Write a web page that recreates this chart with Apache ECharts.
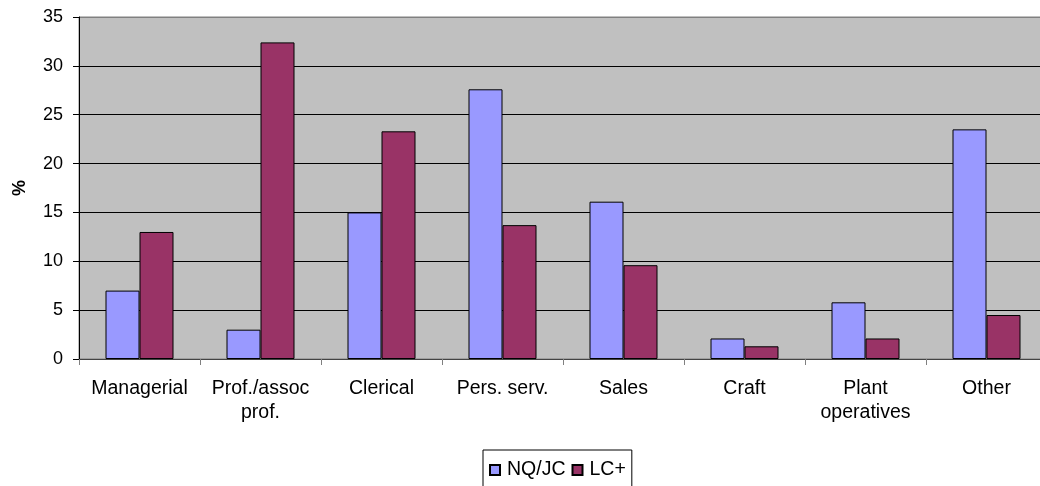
<!DOCTYPE html>
<html>
<head>
<meta charset="utf-8">
<script src="https://cdn.jsdelivr.net/npm/echarts@6/dist/echarts.min.js"></script>
<style>
  html, body { margin: 0; padding: 0; background: #fff; overflow: hidden; }
  #chart { width: 1047px; height: 486px; }
</style>
</head>
<body>
<div id="chart"></div>
<script>
const categories = ['Managerial', 'Prof./assoc\nprof.', 'Clerical', 'Pers. serv.', 'Sales', 'Craft', 'Plant\noperatives', 'Other'];
const nqjc = [7.0, 3.0, 15.0, 27.6, 16.1, 2.1, 5.8, 23.5];
const lcPlus = [13.0, 32.4, 23.3, 13.7, 9.6, 1.3, 2.1, 4.5];

const chart = echarts.init(document.getElementById('chart'));

const font = 'Liberation Sans, Arial, sans-serif';

chart.setOption({
    animation: false,
    textStyle: { fontFamily: font },
    grid: {
        left: 79, top: 17, bottom: 127, right: 0,
        show: true,
        backgroundColor: '#C0C0C0',
        borderColor: '#808080',
        borderWidth: 1
    },
    legend: {
        data: ['NQ/JC', 'LC+'],
        left: 483, top: 450,
        padding: [10, 6, 30, 6],
        itemGap: 6,
        itemWidth: 10, itemHeight: 10,
        icon: 'rect',
        borderColor: '#000', borderWidth: 1,
        textStyle: { fontSize: 19.5, color: '#000', fontFamily: font, padding: [0, 0, 0, 2] }
    },
    xAxis: {
        type: 'category',
        data: categories,
        axisLine: { lineStyle: { color: '#444', width: 1 } },
        axisTick: { show: true, length: 6, lineStyle: { color: '#808080' } },
        axisLabel: { fontSize: 19.5, color: '#000', margin: 18, lineHeight: 24, interval: 0 },
        splitLine: { show: false }
    },
    yAxis: {
        type: 'value',
        min: 0, max: 35, interval: 5,
        name: '%',
        nameLocation: 'middle',
        nameRotate: 90,
        nameGap: 50,
        nameTextStyle: { fontSize: 18, fontWeight: 'bold', color: '#000' },
        axisLine: { show: true, lineStyle: { color: '#000' } },
        axisTick: { show: true, length: 6, lineStyle: { color: '#000' } },
        axisLabel: { fontSize: 18, color: '#000', margin: 16 },
        splitLine: {
            show: true,
            lineStyle: { color: ['#000', '#000', '#000', '#000', '#000', '#000', '#000', '#808080'], width: 1 }
        }
    },
    series: [
        {
            name: 'NQ/JC',
            type: 'bar',
            data: nqjc,
            barWidth: 34,
            barGap: '0%',
            itemStyle: { color: '#9999FF', borderColor: '#000', borderWidth: 1 }
        },
        {
            name: 'LC+',
            type: 'bar',
            data: lcPlus,
            barWidth: 34,
            itemStyle: { color: '#993366', borderColor: '#000', borderWidth: 1 }
        }
    ]
});
</script>
</body>
</html>
